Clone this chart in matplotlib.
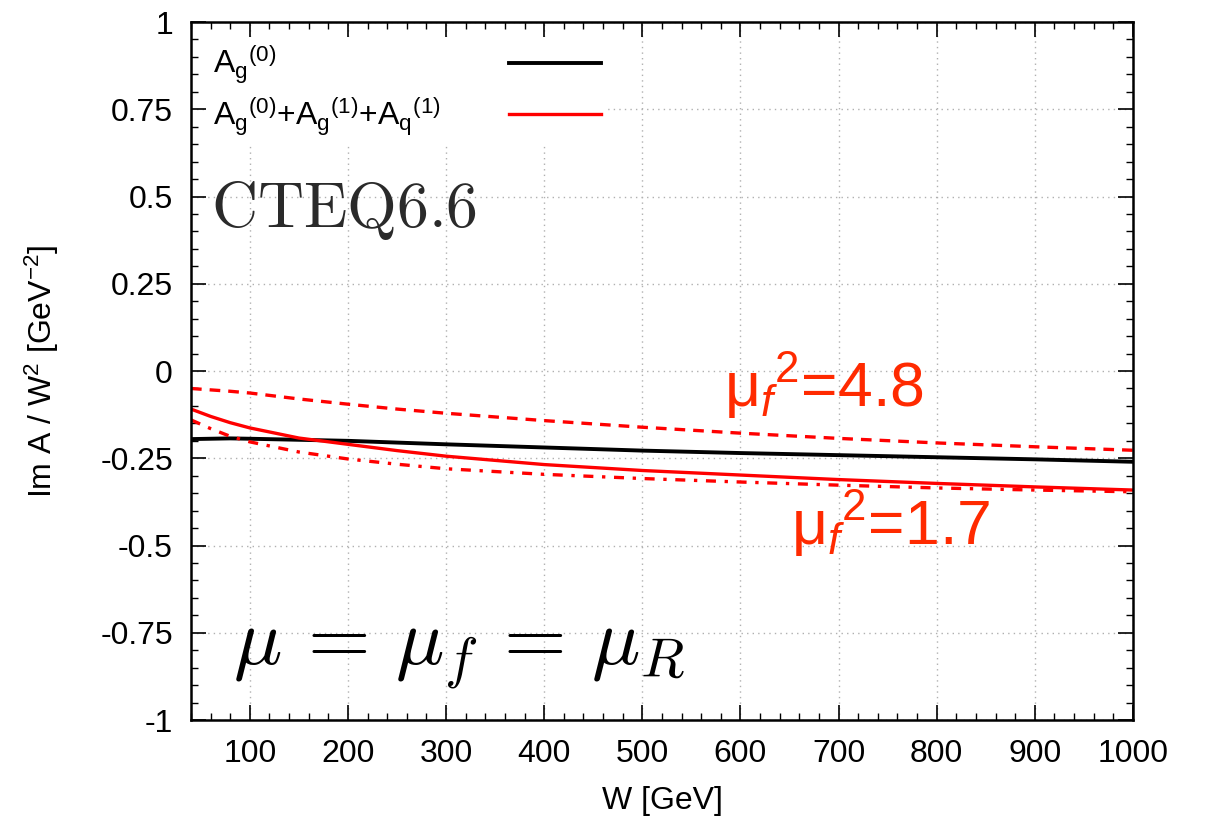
import matplotlib
matplotlib.use('Agg')
import matplotlib.pyplot as plt
from matplotlib.ticker import MultipleLocator, FuncFormatter

plt.rcParams['font.family'] = ['Liberation Sans', 'DejaVu Sans']
plt.rcParams['mathtext.fontset'] = 'custom'
plt.rcParams['mathtext.rm'] = 'Liberation Sans'
plt.rcParams['mathtext.it'] = 'Liberation Sans:italic'
plt.rcParams['mathtext.bf'] = 'Liberation Sans:bold'
plt.rcParams['axes.unicode_minus'] = False

# W [GeV] and Im A / W^2
W = [40, 60, 80, 100, 150, 200, 250, 300, 400, 500, 600, 700, 800, 900, 1000]
lo_g = [-0.195, -0.194, -0.193, -0.194, -0.197, -0.200, -0.205, -0.210,
        -0.219, -0.228, -0.235, -0.241, -0.247, -0.253, -0.260]
nlo = [-0.109, -0.130, -0.148, -0.163, -0.192, -0.210, -0.228, -0.244,
       -0.268, -0.285, -0.298, -0.311, -0.322, -0.332, -0.341]
nlo_48 = [-0.050, -0.054, -0.058, -0.063, -0.080, -0.095, -0.109, -0.121,
          -0.142, -0.161, -0.178, -0.193, -0.206, -0.217, -0.227]
nlo_17 = [-0.140, -0.165, -0.187, -0.203, -0.232, -0.252, -0.267, -0.280,
          -0.296, -0.308, -0.318, -0.327, -0.335, -0.341, -0.346]

lab_lo = r'$\mathregular{A_g{}^{(0)}}$'
lab_nlo = (r'$\mathregular{A_g{}^{(0)}}$+$\mathregular{A_g{}^{(1)}}$'
           r'+$\mathregular{A_q{}^{(1)}}$')

fs = 23
fig = plt.figure(figsize=(12.05, 8.16), dpi=100)
ax = fig.add_axes([0.1585, 0.1176, 0.7817, 0.8554])

ax.plot(W, lo_g, color='black', lw=2.8, label=lab_lo)
ax.plot(W, nlo, color='red', lw=2.4, label=lab_nlo)
ax.plot(W, nlo_48, color='red', lw=2.4, dashes=(3.2, 2.4))
ax.plot(W, nlo_17, color='red', lw=2.4, dashes=(3.0, 2.6, 1.0, 2.6))

ax.set_xlim(40, 1000)
ax.set_ylim(-1, 1)
ax.xaxis.set_major_locator(MultipleLocator(100))
ax.xaxis.set_minor_locator(MultipleLocator(20))
ax.yaxis.set_major_locator(MultipleLocator(0.25))
ax.yaxis.set_minor_locator(MultipleLocator(0.05))
ax.yaxis.set_major_formatter(FuncFormatter(lambda v, p: '%g' % v))
ax.tick_params(which='both', direction='in', top=True, right=True, labelsize=fs)
ax.tick_params(which='major', length=10.5, width=1.2)
ax.tick_params(which='minor', length=5, width=1.0)
ax.tick_params(axis='x', pad=14)
ax.tick_params(axis='y', pad=13)
for s in ax.spines.values():
    s.set_linewidth(1.8)
ax.set_axisbelow(True)
ax.grid(True, color='#b0b0b0', ls=(0, (1, 3)), lw=1.0)

ax.set_xlabel('W [GeV]', fontsize=fs, labelpad=12)
ax.set_ylabel(r'Im A / W$^2$ [GeV$^{-2}$]', fontsize=fs, labelpad=28)

leg = ax.legend(loc='upper left', bbox_to_anchor=(0.017, 0.978), markerfirst=False,
                fontsize=fs, handlelength=2.9, handletextpad=1.6, labelspacing=0.3,
                borderpad=0.2, borderaxespad=0, frameon=True, fancybox=False)
leg.get_frame().set_edgecolor('none')
leg.get_frame().set_facecolor('white')
leg.get_frame().set_alpha(1)
# text flush left, line flush right in every row
for row in leg._legend_handle_box.get_children()[0].get_children():
    row.mode = 'expand'
    row.width = 388

ax.text(60, 0.413, r'$\mathrm{CTEQ6.6}$', math_fontfamily='cm', fontsize=46,
        color='#2a2a2a', va='baseline', ha='left')
ax.text(83, -0.84, r'$\mu \,=\, \mu_f \,=\, \mu_R$', math_fontfamily='cm', fontsize=58,
        va='baseline', ha='left')
ax.text(583, -0.103, r'$\mathrm{μ}_{\mathit{f}}{}^{2}$=4.8', fontsize=45,
        color='#ff2a00', va='baseline', ha='left')
ax.text(652, -0.499, r'$\mathrm{μ}_{\mathit{f}}{}^{2}$=1.7', fontsize=45,
        color='#ff2a00', va='baseline', ha='left')

fig.savefig('out.png', dpi=100)
